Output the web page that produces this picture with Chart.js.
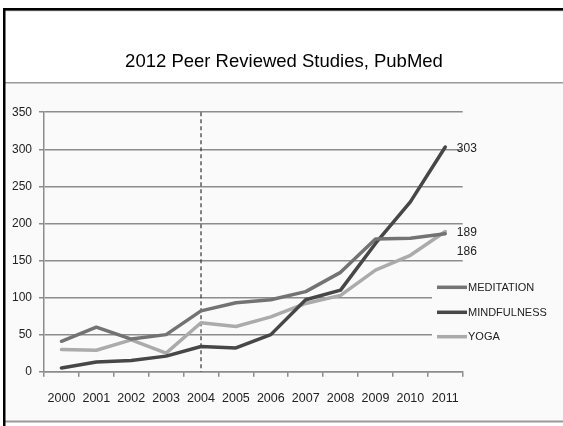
<!DOCTYPE html>
<html><head><meta charset="utf-8">
<script src="https://cdn.jsdelivr.net/npm/chart.js@4/dist/chart.umd.min.js"></script>
<style>html,body{margin:0;padding:0;background:#fff;}#wrap{position:relative;width:563px;height:426px;}</style>
</head><body><div id="wrap"><canvas id="c" width="563" height="426"></canvas></div>
<script>
const titleText = '2012 Peer Reviewed Studies, PubMed';
const years = ['2000','2001','2002','2003','2004','2005','2006','2007','2008','2009','2010','2011'];
const meditation = [41,60,44,50,82,93,97,108,134,179,180,186];
const mindfulness = [5,13,15,21,34,32,50,97,110,173,229,303];
const yoga = [30,29,43,25,66,61,74,92,103,137,157,189];
const seriesNames = ['MEDITATION','MINDFULNESS','YOGA'];
const yMin = 0, yMax = 350, yStep = 50;
const markerYear = '2004';

const FONT = "'Liberation Sans', Arial, sans-serif";
const colors = ['#737373','#474747','#ababab'];
const endLabelOffsetY = [18, 2, 1.5];

const framePlugin = {
  id:'frame',
  beforeDraw(chart){
    const c = chart.ctx;
    c.save();
    c.fillStyle='#fff'; c.fillRect(0,0,563,426);
    c.fillStyle='#fafafa'; c.fillRect(5,83,558,338);
    c.fillStyle='#9a9a9a'; c.fillRect(5,82,558,1.5); c.fillRect(5,420.5,558,2);
    c.fillStyle='#a0a0a0'; c.fillRect(5,10,558,1.2);
    c.fillStyle='#000'; c.fillRect(3,8,560,2.5); c.fillRect(3,8,2.5,418);
    c.restore();
  },
  beforeDatasetsDraw(chart){
    const c = chart.ctx, xs = chart.scales.x, a = chart.chartArea;
    const x = xs.getPixelForValue(years.indexOf(markerYear));
    c.save();
    c.strokeStyle='#333'; c.lineWidth=1.2; c.setLineDash([4,3]);
    c.beginPath(); c.moveTo(x,a.top); c.lineTo(x,a.bottom); c.stroke();
    c.restore();
  },
  afterDatasetsDraw(chart){
    const c = chart.ctx;
    c.save();
    c.font = '12px ' + FONT; c.fillStyle='#222'; c.textAlign='left'; c.textBaseline='middle';
    chart.data.datasets.forEach((ds,i)=>{
      const meta = chart.getDatasetMeta(i);
      const p = meta.data[meta.data.length-1];
      c.fillText(String(ds.data[ds.data.length-1]), p.x+11.6, p.y+endLabelOffsetY[i]);
    });
    c.restore();
  },
  afterDraw(chart){
    const c = chart.ctx;
    c.save();
    c.fillStyle='#fafafa'; c.fillRect(432,279,131,66);
    const rows=[287.3,312.3,336.7];
    c.font='11px '+FONT; c.textAlign='left'; c.textBaseline='middle';
    chart.data.datasets.forEach((ds,i)=>{
      c.strokeStyle=ds.borderColor; c.lineWidth=3.5; c.lineCap='butt';
      c.beginPath(); c.moveTo(437,rows[i]); c.lineTo(467,rows[i]); c.stroke();
      c.fillStyle='#222'; c.fillText(ds.label,468,rows[i]+0.5);
    });
    c.restore();
  }
};

const mk = (label, data, color) => ({label, data, borderColor:color, backgroundColor:color,
  borderWidth:3.5, pointRadius:0, tension:0, borderCapStyle:'round', borderJoinStyle:'round', fill:false});

new Chart(document.getElementById('c'), {
  type:'line',
  data:{labels:years, datasets:[mk(seriesNames[0],meditation,colors[0]), mk(seriesNames[1],mindfulness,colors[1]), mk(seriesNames[2],yoga,colors[2])]},
  options:{
    responsive:false, animation:false, devicePixelRatio:1,
    layout:{padding:{left:5,right:0,top:0,bottom:0}},
    plugins:{
      legend:{display:false}, tooltip:{enabled:false},
      title:{display:true, text:titleText, color:'#000', font:{family:FONT,size:18.5,weight:'normal'}, padding:{top:51,bottom:39}}
    },
    scales:{
      x:{offset:true,
        grid:{offset:true, drawOnChartArea:false, drawTicks:true, tickLength:5, color:'#8c8c8c', lineWidth:1.5},
        border:{display:true, color:'#8c8c8c', width:1.5},
        ticks:{color:'#222', font:{family:FONT,size:12.5}, padding:14, maxRotation:0, autoSkip:false},
        afterFit(s){ s.height = 54.3; }
      },
      y:{min:yMin, max:yMax,
        grid:{color:'#8c8c8c', lineWidth:1.5, drawTicks:true, tickLength:5},
        border:{display:true, color:'#8c8c8c', width:1.5},
        ticks:{stepSize:yStep, color:'#222', font:{family:FONT,size:12}, padding:7},
        afterFit(s){ s.width = 39; }
      },
      yRight:{position:'right', min:yMin, max:yMax,
        grid:{display:false, drawOnChartArea:false}, border:{display:false},
        ticks:{display:false},
        afterFit(s){ s.width = 100.3; }
      }
    }
  },
  plugins:[framePlugin]
});
</script></body></html>
